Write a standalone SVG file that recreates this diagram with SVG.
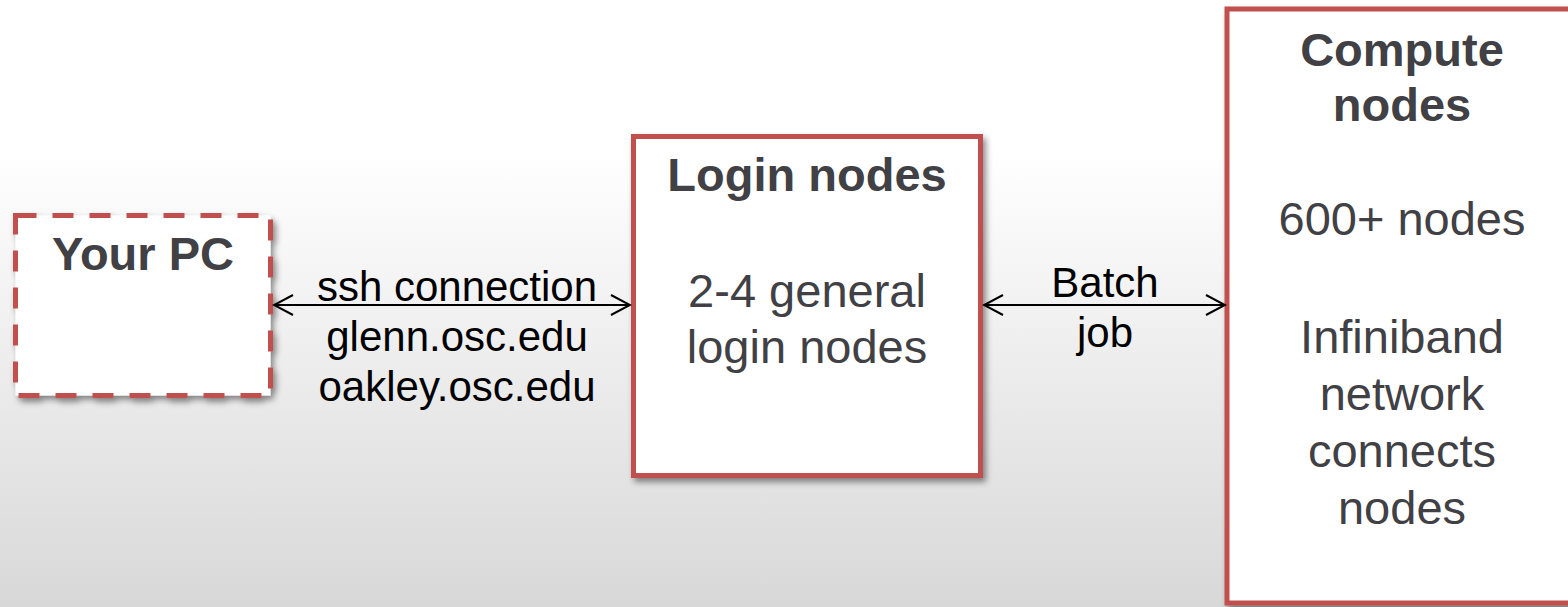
<svg xmlns="http://www.w3.org/2000/svg" width="1568" height="607" viewBox="0 0 1568 607">
  <defs>
    <linearGradient id="bg" x1="0" y1="0" x2="0" y2="1">
      <stop offset="0" stop-color="#ffffff"/>
      <stop offset="0.25" stop-color="#ffffff"/>
      <stop offset="1" stop-color="#d8d8d8"/>
    </linearGradient>
    <filter id="shadow" x="-10%" y="-10%" width="125%" height="125%">
      <feDropShadow dx="3" dy="4" stdDeviation="3" flood-color="#000000" flood-opacity="0.45"/>
    </filter>
    <marker id="arrow" viewBox="-22 -12 24 24" markerWidth="24" markerHeight="24" refX="0" refY="0" markerUnits="userSpaceOnUse" orient="auto-start-reverse">
      <path d="M-19,-10 L0,0 L-19,10" fill="none" stroke="#000000" stroke-width="2"/>
    </marker>
    <style>
      .box { fill: #ffffff; stroke: #c0504d; stroke-width: 5; filter: url(#shadow); }
      .dashed { stroke-dasharray: 21 16; }
      .title { font-family: "Liberation Sans", Arial, sans-serif; font-weight: bold; font-size: 47px; fill: #404045; text-anchor: middle; }
      .body { font-family: "Liberation Sans", Arial, sans-serif; font-size: 47px; fill: #404045; text-anchor: middle; }
      .label { font-family: "Liberation Sans", Arial, sans-serif; font-size: 42px; fill: #000000; text-anchor: middle; }
      .conn { stroke: #000000; stroke-width: 2; fill: none; marker-start: url(#arrow); marker-end: url(#arrow); }
    </style>
  </defs>
  <rect x="0" y="0" width="1568" height="607" fill="url(#bg)"/>

  <g id="your-pc">
    <rect class="box dashed" x="15.5" y="215.5" width="255" height="180"/>
    <text class="title" x="143" y="270">Your PC</text>
  </g>

  <g id="login-nodes">
    <rect class="box" x="633.5" y="136.5" width="347" height="339"/>
    <text class="title" x="807" y="191">Login nodes</text>
    <text class="body" x="807" y="307">2-4 general</text>
    <text class="body" x="807" y="363">login nodes</text>
  </g>

  <g id="compute-nodes">
    <rect class="box" x="1227" y="9" width="400" height="594"/>
    <text class="title" x="1402" y="66">Compute</text>
    <text class="title" x="1402" y="121">nodes</text>
    <text class="body" x="1402" y="235">600+ nodes</text>
    <text class="body" x="1402" y="353">Infiniband</text>
    <text class="body" x="1402" y="410">network</text>
    <text class="body" x="1402" y="467">connects</text>
    <text class="body" x="1402" y="524">nodes</text>
  </g>

  <g id="connectors">
    <line class="conn" x1="274" y1="305" x2="630" y2="305"/>
    <text class="label" x="457" y="301">ssh connection</text>
    <text class="label" x="457" y="351">glenn.osc.edu</text>
    <text class="label" x="457" y="401">oakley.osc.edu</text>
    <line class="conn" x1="984" y1="305" x2="1225" y2="305"/>
    <text class="label" x="1105" y="297">Batch</text>
    <text class="label" x="1105" y="347">job</text>
  </g>
</svg>
